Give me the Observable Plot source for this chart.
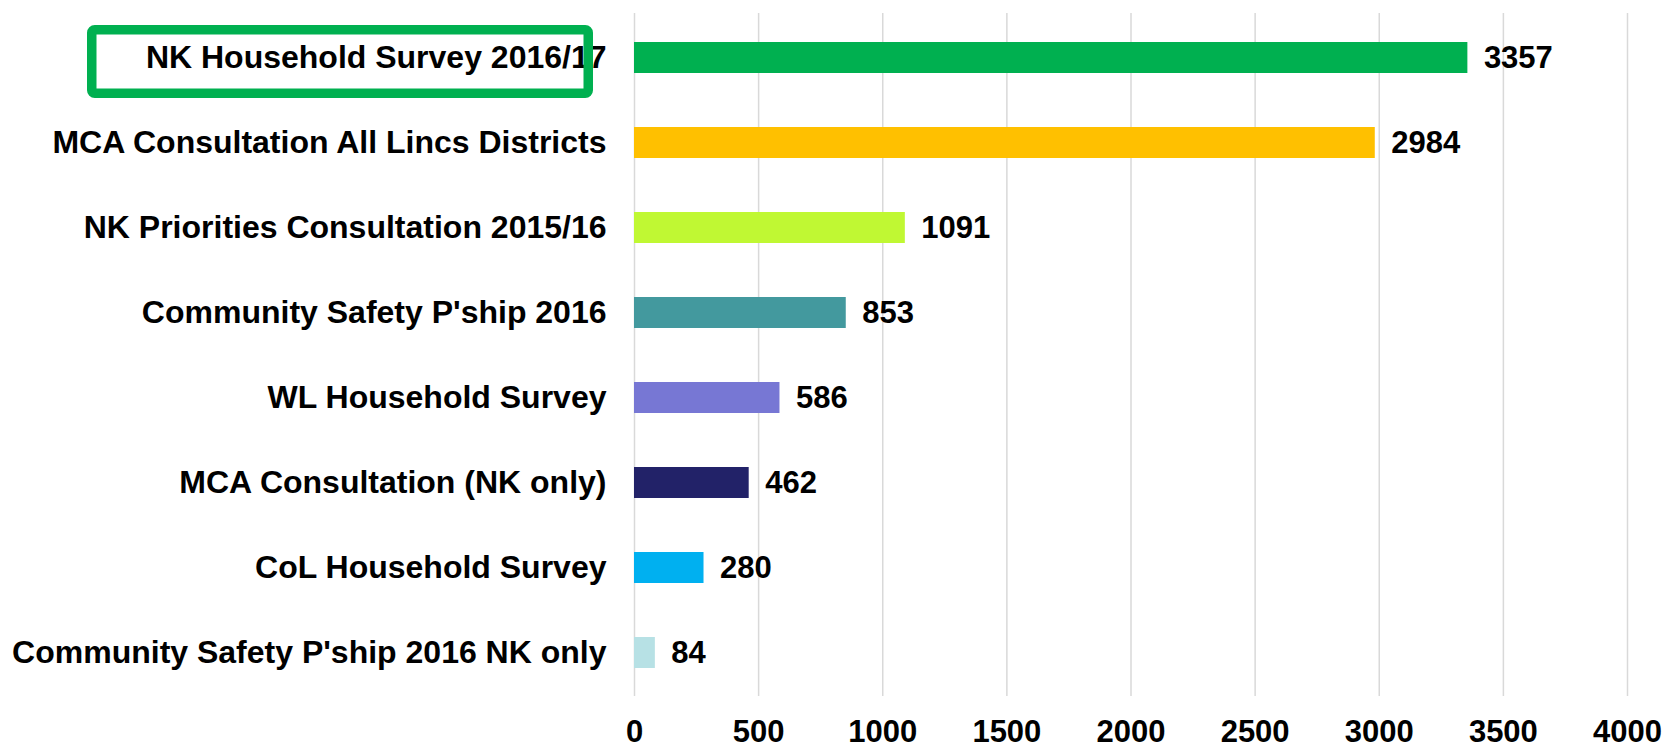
<!DOCTYPE html>
<html>
<head>
<meta charset="utf-8">
<script src="https://cdn.jsdelivr.net/npm/d3@7"></script>
<script src="https://cdn.jsdelivr.net/npm/@observablehq/plot@0.6"></script>
<style>
  html, body { margin: 0; padding: 0; background: #fff; }
  #chart svg { display: block; }
</style>
</head>
<body>
<div id="chart"></div>
<script>
const categories = [
  "NK Household Survey 2016/17",
  "MCA Consultation All Lincs Districts",
  "NK Priorities Consultation 2015/16",
  "Community Safety P'ship 2016",
  "WL Household Survey",
  "MCA Consultation (NK only)",
  "CoL Household Survey",
  "Community Safety P'ship 2016 NK only"
];
const values = [3357, 2984, 1091, 853, 586, 462, 280, 84];
const barColors = ["#00B050", "#FFC000", "#C0F833", "#43999E", "#7777D4", "#222268", "#00B0F0", "#B7E1E5"];
const xTicks = [0, 500, 1000, 1500, 2000, 2500, 3000, 3500, 4000];

const data = categories.map((c, i) => ({cat: c, value: values[i], color: barColors[i]}));

const FONT = "'Liberation Sans', Arial, Helvetica, sans-serif";

const chart = Plot.plot({
  width: 1666,
  height: 748,
  marginLeft: 634,
  marginRight: 39,
  marginTop: 13,
  marginBottom: 52,
  style: {fontFamily: FONT, fontWeight: "bold", fontSize: "31px", color: "#000", background: "#fff"},
  x: {domain: [0, 4000]},
  y: {domain: categories, paddingInner: 0.636, paddingOuter: 0.318},
  color: {type: "identity"},
  marks: [
    Plot.gridX(xTicks, {stroke: "#d9d9d9", strokeOpacity: 1, strokeWidth: 1.5}),
    Plot.axisX(xTicks, {tickSize: 0, tickPadding: 23, label: null, fontSize: 31, fontWeight: "bold", tickFormat: d => String(d)}),
    Plot.axisY({tickSize: 0, tickPadding: 28, label: null, fontSize: 32, fontWeight: "bold"}),
    Plot.barX(data, {x: "value", y: "cat", fill: "color"}),
    Plot.text(data, {x: "value", y: "cat", text: d => String(d.value), textAnchor: "start", dx: 16, fontSize: 31, fontWeight: "bold", fill: "#000"})
  ]
});

// Highlight annotation box around the first category label
const yS = chart.scale("y");
const yc = yS.apply(categories[0]) + yS.bandwidth / 2;
const sw = 9.5;
const box = {left: 87, right: 593, top: yc - 32.5, bottom: yc + 40.5};
d3.select(chart).append("rect")
  .attr("x", box.left + sw / 2)
  .attr("y", box.top + sw / 2)
  .attr("width", box.right - box.left - sw)
  .attr("height", box.bottom - box.top - sw)
  .attr("rx", 3)
  .attr("fill", "none")
  .attr("stroke", "#00B050")
  .attr("stroke-width", sw);

document.getElementById("chart").appendChild(chart);
</script>
</body>
</html>
